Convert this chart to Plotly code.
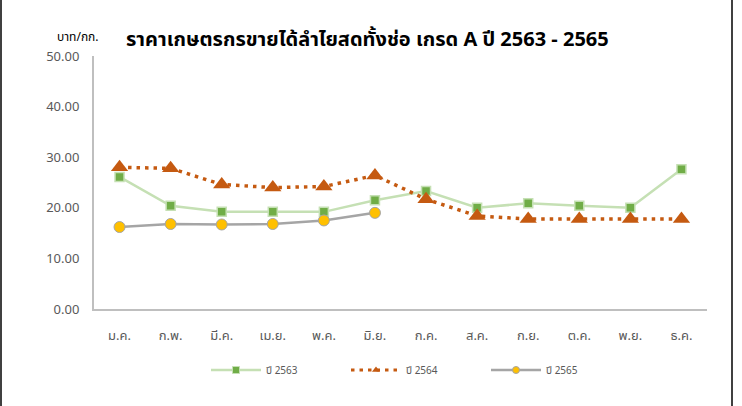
import plotly.graph_objects as go

months = ["ม.ค.", "ก.พ.", "มี.ค.", "เม.ย.", "พ.ค.", "มิ.ย.", "ก.ค.", "ส.ค.", "ก.ย.", "ต.ค.", "พ.ย.", "ธ.ค."]
y2563 = [26.1, 20.4, 19.2, 19.2, 19.2, 21.5, 23.3, 20.0, 20.9, 20.4, 20.0, 27.6]
y2564 = [28.0, 27.8, 24.6, 24.0, 24.2, 26.4, 21.7, 18.4, 17.8, 17.8, 17.8, 17.8]
y2565 = [16.2, 16.8, 16.7, 16.8, 17.5, 19.0]
names = ["ปี 2563", "ปี 2564", "ปี 2565"]
yticks = [0, 10, 20, 30, 40, 50]

FONT = "Tahoma, 'Noto Sans Thai', 'Noto Sans', sans-serif"
W, H = 742, 406
L, R, T, B = 94, 35, 56, 97
pw, ph = W - L - R, H - T - B

styles = [
    dict(line=dict(color="#C5E0B4", width=2.5),
         marker=dict(symbol="square", size=9, color="#70AD47", line=dict(color="#C5E0B4", width=1.5)),
         lmarker=dict(symbol="square", size=7, color="#70AD47", line=dict(color="#C5E0B4", width=1))),
    dict(line=dict(color="#C55A11", width=3.5, dash="3.5px,5px"),
         marker=dict(symbol="triangle-up", size=15, color="#C55A11"),
         lmarker=dict(symbol="triangle-up", size=7, color="#C55A11")),
    dict(line=dict(color="#A5A5A5", width=2.5),
         marker=dict(symbol="circle", size=11, color="#FFC000", line=dict(color="#A5A5A5", width=1)),
         lmarker=dict(symbol="circle", size=7, color="#FFC000", line=dict(color="#A5A5A5", width=1))),
]
series = [y2563, y2564, y2565]

fig = go.Figure()
for nm, ys, st in zip(names, series, styles):
    fig.add_trace(go.Scatter(
        x=months[:len(ys)], y=ys, name=nm, mode="lines+markers",
        line=st["line"], marker=st["marker"], showlegend=False,
    ))
# legend proxies (no data drawn)
for nm, st in zip(names, styles):
    lline = dict(st["line"])
    if "dash" in lline:
        lline["width"] = 3
    fig.add_trace(go.Scatter(
        x=[None], y=[None], name=nm, mode="lines+markers",
        line=lline, marker=st["lmarker"], showlegend=True,
    ))

fig.update_layout(
    width=W, height=H,
    margin=dict(l=L, r=R, t=T, b=B, pad=0, autoexpand=False),
    paper_bgcolor="white", plot_bgcolor="white",
    font=dict(family=FONT, color="#595959", size=13),
    showlegend=True,
    legend=dict(orientation="h", x=(416 - L) / pw, xanchor="center", y=-(370 - (T + ph)) / ph,
                yanchor="middle", font=dict(size=10, color="#595959"),
                itemwidth=50, tracegroupgap=0, entrywidth=75),
    xaxis=dict(type="category", range=[-0.5, 11.5], showgrid=False, showline=True,
               linecolor="#BFBFBF", linewidth=2, ticks="", tickfont=dict(size=13, color="#595959"),
               ticklabelstandoff=13, zeroline=False),
    yaxis=dict(range=[0, 50], tickvals=yticks, tickformat=".2f", showgrid=False, showline=True,
               linecolor="#BFBFBF", linewidth=2, ticks="", tickfont=dict(size=13, color="#595959"),
               ticklabelstandoff=10, zeroline=False),
    annotations=[
        dict(text="<b>ราคาเกษตรกรขายได้ลำไยสดทั้งช่อ เกรด A ปี 2563 - 2565</b>", xref="paper", yref="paper",
             x=(367 - L) / pw, y=1 + (T - 40) / ph, xanchor="center", yanchor="middle", showarrow=False,
             font=dict(size=20, color="#000000", family=FONT)),
        dict(text="บาท/กก.", xref="paper", yref="paper", x=(78 - L) / pw, y=1 + (T - 37) / ph,
             xanchor="center", yanchor="middle", showarrow=False, font=dict(size=12, color="#000000", family=FONT)),
    ],
    shapes=[
        dict(type="line", xref="paper", yref="paper", x0=(1 - L) / pw, x1=(1 - L) / pw, y0=-B / ph, y1=1 + T / ph,
             line=dict(color="#404040", width=2)),
        dict(type="line", xref="paper", yref="paper", x0=(732 - L) / pw, x1=(732 - L) / pw, y0=-B / ph, y1=1 + T / ph,
             line=dict(color="#404040", width=2)),
    ],
)

fig.write_html("out.html", config={"displayModeBar": False},
               post_script="document.body.style.margin='0';document.body.style.overflow='hidden';")
